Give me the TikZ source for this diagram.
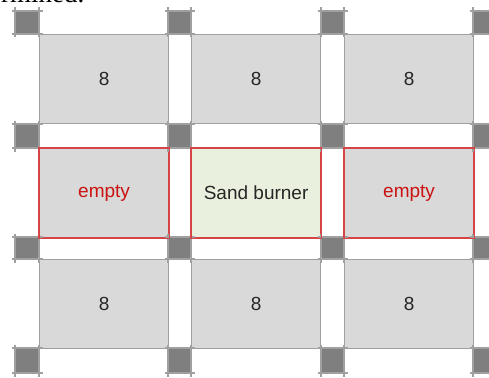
\documentclass[tikz,border=0pt]{standalone}
\usepackage{fontspec}
\setmainfont{Liberation Sans}
\newfontfamily\serifdoc{Liberation Serif}
\definecolor{cellgray}{HTML}{D9D9D9}
\definecolor{pillar}{HTML}{7F7F7F}
\definecolor{gridline}{HTML}{A0A0A0}
\definecolor{redline}{HTML}{D64545}
\definecolor{redtext}{HTML}{CC1111}
\definecolor{burner}{HTML}{EAF0DE}
\tikzset{
  cellbox/.style={draw=gridline, fill=cellgray, line width=1.2pt, minimum width=129pt, minimum height=89pt, inner sep=0pt, anchor=north west, font=\fontsize{19}{22}\selectfont, text=black!85},
  redbox/.style={cellbox, draw=redline},
  burnerbox/.style={redbox, fill=burner},
  emptytext/.style={text=redtext},
  pillarbox/.style={fill=pillar, draw=none, minimum width=23pt, minimum height=23pt, inner sep=0pt, anchor=north west},
  tick/.style={draw=gridline, line width=1.2pt}
}
\begin{document}
\begin{tikzpicture}[x=1pt,y=-1pt]
\useasboundingbox (0,0) rectangle (489,377);
\begin{scope}
\clip (0,0) rectangle (489,377);
% clipped text from the page above
\node[anchor=base west, inner sep=0pt, font=\serifdoc\fontsize{27}{30}\selectfont] (toptext) at (1,3) {rmined.};
% cells
\node[cellbox] (c00) at (39,34) {8};
\node[cellbox] (c01) at (191,34) {8};
\node[cellbox] (c02) at (344,34) {8};
\node[redbox, emptytext] (c10) at (39,148) {empty};
\node[burnerbox] (c11) at (191,148) {Sand burner};
\node[redbox, emptytext] (c12) at (344,148) {empty};
\node[cellbox] (c20) at (39,259) {8};
\node[cellbox] (c21) at (191,259) {8};
\node[cellbox] (c22) at (344,259) {8};
% pillars with extended edge lines
\foreach \px/\pw in {15/24,168/23,321/23,473/24}{
  \foreach \py/\ph in {11/23,124/24,237/22,348/25}{
    \fill[pillar] (\px,\py) rectangle ++(\pw,\ph);
    \draw[tick] (\px-3.5,\py) -- ++(\pw+7,0);
    \draw[tick] (\px-3.5,\py+\ph) -- ++(\pw+7,0);
    \draw[tick] (\px,\py-3.5) -- ++(0,\ph+7);
    \draw[tick] (\px+\pw,\py-3.5) -- ++(0,\ph+7);
  }
}
% redraw red borders on top
\draw[redline, line width=1.2pt] (c10.north west) rectangle (c10.south east);
\draw[redline, line width=1.2pt] (c11.north west) rectangle (c11.south east);
\draw[redline, line width=1.2pt] (c12.north west) rectangle (c12.south east);
\end{scope}
\end{tikzpicture}
\end{document}
